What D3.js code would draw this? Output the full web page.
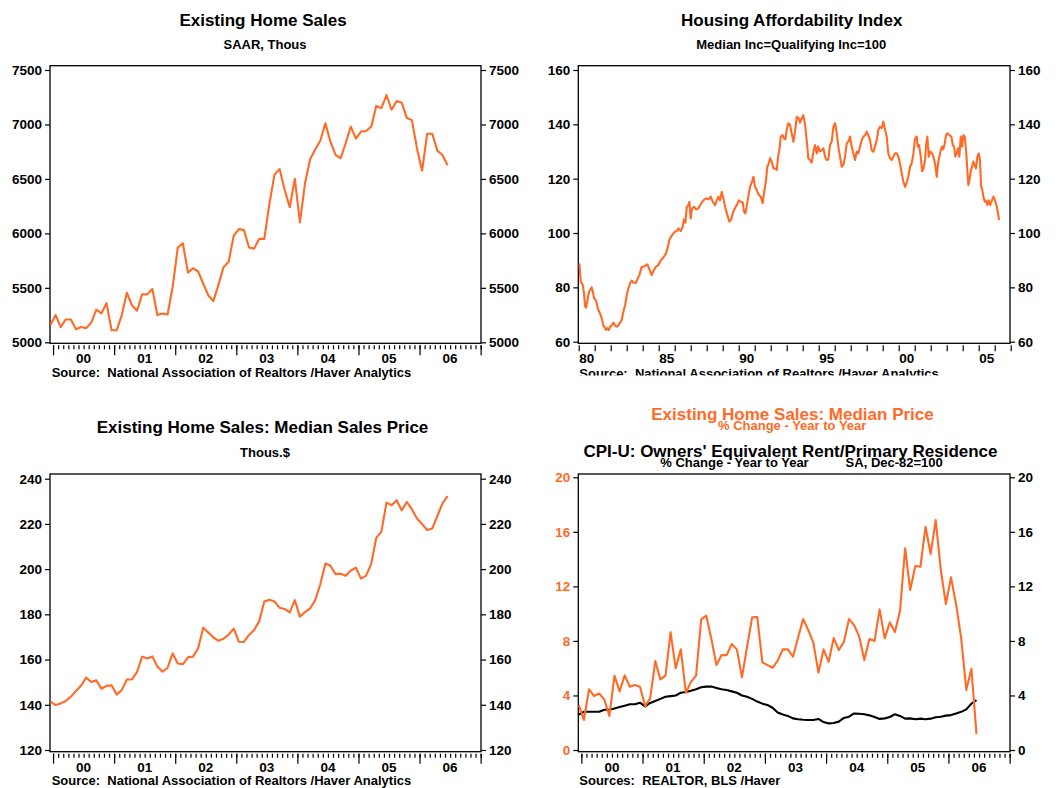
<!DOCTYPE html>
<html>
<head>
<meta charset="utf-8">
<title>Existing Home Sales - Haver panels</title>
<script src="https://d3js.org/d3.v7.min.js"></script>
<style>
  body { margin: 0; background: #fff; }
  svg { display: block; font-family: "Liberation Sans", Arial, Helvetica, sans-serif; font-weight: bold; }
  .tick text { font-size: 13.5px; font-weight: bold; }
  .lab { font-size: 13.5px; }
  .src { font-size: 13px; white-space: pre; }
  .title { font-size: 17px; }
  .sub { font-size: 13px; }
</style>
</head>
<body>
<svg id="chart" width="1059" height="788"></svg>
<script>
// ---- data: monthly, Dec 1999 .. Jun 2006 ----
const monthStart = 1999 + 11 / 12;   // Dec 1999
const salesValues = [
  5160,5250,5140,5210,5210,5120,5140,5130,5180,5300,5265,5360,
  5110,5110,5250,5455,5340,5290,5440,5440,5490,5250,5265,5255,
  5510,5870,5910,5640,5680,5650,5540,5430,5380,5530,5690,5740,
  5980,6040,6030,5870,5860,5950,5950,6270,6540,6590,6400,6240,
  6500,6100,6460,6680,6770,6850,7010,6840,6720,6690,6830,6980,
  6870,6935,6940,6980,7170,7150,7270,7135,7215,7200,7060,7040,
  6780,6575,6915,6915,6760,6720,6625
];
const priceValues = [
  141.4,139.9,140.6,141.7,143.6,146.1,148.4,152.0,150.1,150.8,
  147.1,148.4,148.6,144.5,146.5,151.2,151.2,154.5,161.3,160.5,
  161.4,156.9,154.6,156.4,162.7,158.3,157.9,161.0,161.3,165.0,
  174.1,172.0,169.8,168.3,169.2,171.1,173.7,167.9,167.8,170.9,
  173.1,177.0,185.7,186.5,185.7,182.9,182.4,180.9,186.3,179.0,
  181.0,182.6,186.3,193.3,202.5,201.5,197.8,198.0,197.1,199.4,
  200.6,195.8,197.1,202.3,213.9,216.5,229.4,228.3,230.5,226.0,
  229.7,226.4,222.4,219.9,217.3,218.0,223.5,229.1,232.3
];
const priceYoY = [
  3.3,2.2,4.45,3.96,4.15,3.7,2.5,5.45,4.3,5.47,
  4.64,4.76,4.64,3.22,3.79,6.52,5.18,5.45,8.63,5.99,
  7.38,4.2,5.0,5.45,9.58,9.85,8.14,6.23,6.96,6.96,
  7.77,7.38,5.33,7.57,9.73,9.75,6.43,6.23,6.03,6.55,
  7.38,7.38,6.84,8.24,9.6,8.8,7.87,5.67,7.38,6.47,
  8.21,7.33,7.94,9.6,9.16,8.31,6.6,8.14,7.99,10.31,
  8.19,9.36,8.65,10.21,14.79,11.73,13.49,13.44,16.37,14.37,
  16.86,13.2,10.7,12.66,10.68,8.19,4.4,5.96,1.17
];
const oerYoY = [
  2.6,2.8,2.8,2.8,2.8,2.95,2.95,3.05,3.15,3.25,
  3.35,3.35,3.47,3.2,3.45,3.6,3.75,3.9,3.95,4.0,
  4.2,4.25,4.35,4.45,4.6,4.65,4.65,4.55,4.45,4.4,
  4.3,4.2,4.0,3.9,3.75,3.55,3.4,3.3,3.1,2.75,
  2.6,2.5,2.32,2.25,2.22,2.2,2.2,2.28,2.05,1.95,
  1.98,2.08,2.35,2.44,2.68,2.66,2.62,2.54,2.42,2.28,
  2.32,2.42,2.62,2.5,2.3,2.32,2.25,2.3,2.25,2.3,
  2.4,2.44,2.52,2.56,2.68,2.8,2.98,3.4,3.65
];

// ---- housing affordability index (read points, decimal year) ----
const affordYear = [
  1980.04,1980.13,1980.25,1980.33,1980.40,1980.46,1980.54,1980.63,1980.71,1980.81,
  1980.88,1980.96,1981.04,1981.13,1981.23,1981.33,1981.44,1981.54,1981.65,1981.71,
  1981.79,1981.88,1981.96,1982.06,1982.17,1982.27,1982.38,1982.48,1982.58,1982.69,
  1982.79,1982.90,1983.00,1983.10,1983.21,1983.31,1983.42,1983.58,1983.67,1983.79,
  1983.94,1984.04,1984.15,1984.29,1984.42,1984.56,1984.67,1984.83,1984.98,1985.13,
  1985.29,1985.46,1985.58,1985.67,1985.75,1985.88,1986.02,1986.13,1986.23,1986.38,
  1986.50,1986.58,1986.67,1986.75,1986.85,1986.92,1987.00,1987.08,1987.21,1987.33,
  1987.48,1987.63,1987.79,1987.96,1988.10,1988.25,1988.38,1988.52,1988.63,1988.73,
  1988.83,1988.94,1989.04,1989.15,1989.29,1989.42,1989.52,1989.63,1989.75,1989.88,
  1990.00,1990.13,1990.25,1990.33,1990.42,1990.50,1990.60,1990.71,1990.81,1990.92,
  1991.02,1991.13,1991.25,1991.38,1991.50,1991.58,1991.71,1991.79,1991.88,1991.96,
  1992.06,1992.17,1992.27,1992.38,1992.46,1992.54,1992.63,1992.75,1992.83,1992.92,
  1993.00,1993.10,1993.21,1993.31,1993.42,1993.52,1993.63,1993.75,1993.83,1993.94,
  1994.04,1994.15,1994.25,1994.35,1994.46,1994.56,1994.67,1994.77,1994.88,1994.96,
  1995.08,1995.19,1995.29,1995.40,1995.50,1995.60,1995.71,1995.81,1995.92,1996.02,
  1996.13,1996.23,1996.33,1996.44,1996.54,1996.65,1996.75,1996.85,1996.96,1997.06,
  1997.17,1997.27,1997.38,1997.48,1997.58,1997.69,1997.79,1997.90,1998.00,1998.10,
  1998.21,1998.31,1998.42,1998.52,1998.63,1998.73,1998.83,1998.94,1999.04,1999.15,
  1999.25,1999.35,1999.46,1999.56,1999.67,1999.77,1999.88,1999.98,2000.08,2000.19,
  2000.29,2000.40,2000.50,2000.60,2000.71,2000.81,2000.92,2001.02,2001.13,2001.19,
  2001.27,2001.38,2001.46,2001.54,2001.65,2001.71,2001.79,2001.88,2001.96,2002.06,
  2002.17,2002.27,2002.38,2002.46,2002.54,2002.63,2002.71,2002.79,2002.88,2002.96,
  2003.04,2003.17,2003.29,2003.38,2003.46,2003.54,2003.63,2003.71,2003.79,2003.88,
  2003.96,2004.04,2004.13,2004.21,2004.29,2004.35,2004.42,2004.50,2004.58,2004.67,
  2004.75,2004.83,2004.92,2005.00,2005.08,2005.15,2005.21,2005.29,2005.38,2005.46,
  2005.54,2005.63,2005.71,2005.79,2005.92,2006.02,2006.13,2006.21,2006.27
];
const affordValue = [
  88.8,82,81,78,73,72.5,75,78,79,80,
  78.4,76,75.6,74,71.7,70.4,68.6,66,65,64.3,
  65,64.3,65.5,66,67,66,65.5,66,67,68,
  71,73.5,77,79.6,81.5,82.5,81.7,81.7,83,84.5,
  87.6,87.6,87.9,88.5,86.6,84.5,86,87.6,88.2,90,
  91,92.5,95,97.7,98.4,99.6,100.5,100.7,101.7,100.7,
  102.3,105,103.8,109.4,110.3,111.5,105.4,109,109.7,108.7,
  109,110.7,112,112.8,112.4,113.4,111.5,110.3,112,113.4,
  112,115.2,112.8,109.7,106.6,104.2,104.8,107.2,109,110.3,
  112,111.5,111.2,107.9,107.2,109.7,113.4,117,118.5,120.7,
  117,115.8,114,113.4,111,114.6,119.5,124.4,125.6,127.5,
  126.3,123.8,123.8,123.2,128,130.5,135.5,136,134.8,134.5,
  138,140.4,139.8,136.7,133.6,137.3,142.8,142.2,140.6,142.2,
  143.4,139.8,134.2,127.5,126.9,125.9,130,132.4,129.3,131.8,
  130,130.5,131.2,128.1,126.9,127.1,132.4,133.6,139.1,140.4,
  136.7,131.8,128.1,124.4,125,128.1,133,133.6,135.5,131.8,
  129.3,126.9,130,129.3,131.8,134.2,135.5,136,137.3,136,
  134.2,130.5,129.9,131.8,134.2,138,139.1,138.6,141,138,
  135.5,129.3,127.5,126.9,128.1,129.3,129.3,128.1,125.6,122,
  118.9,117,118.5,120.7,124.4,125.6,129.3,134.8,135.5,131.8,
  132.4,128.1,122.8,123.5,126.9,132.4,135.5,128.1,130,129.6,
  128.1,125.6,120.7,125.6,128.1,130.5,131.8,130.8,133,136,
  136.7,136,135.5,132.4,131.8,128.1,129.3,131.2,128.1,135.5,
  131.8,136,135.5,130.5,123.2,117.7,119.5,122.6,124.4,126.3,
  125,123.8,128.1,129.3,126.9,117,116.4,113.4,111.5,112,
  110.3,112,110.3,111.5,113.4,112,109.7,107.2,104.8
];

// ---- axis ticks and labels ----
const monthlyYears = [2000, 2001, 2002, 2003, 2004, 2005, 2006];
const monthlyYearLabels = ['00', '01', '02', '03', '04', '05', '06'];
const affordLabelYears = [1980, 1985, 1990, 1995, 2000, 2005];
const affordYearLabels = ['80', '85', '90', '95', '00', '05'];
const salesTicks = [5000, 5500, 6000, 6500, 7000, 7500];
const affordTicks = [60, 80, 100, 120, 140, 160];
const priceTicks = [120, 140, 160, 180, 200, 220, 240];
const pctTicks = [0, 4, 8, 12, 16, 20];

const ORANGE = '#ff6a26';
const svg = d3.select('#chart');
svg.append('rect').attr('width', 1059).attr('height', 788).attr('fill', '#fff');

const months = salesValues.map((d, i) => monthStart + i / 12 + 1 / 24);

function yAxes(p) {
  const fmt = d3.format('d');
  const left = svg.append('g').attr('transform', 'translate(' + p.left + ',0)')
    .call(d3.axisLeft(p.y).tickValues(p.yTicks).tickSize(5).tickPadding(3).tickFormat(fmt));
  const right = svg.append('g').attr('transform', 'translate(' + p.right + ',0)')
    .call(d3.axisRight(p.y).tickValues(p.yTicks).tickSize(5).tickPadding(3).tickFormat(fmt));
  [left, right].forEach(a => {
    a.attr('font-size', null).attr('font-family', null);
    a.select('.domain').remove();
    a.selectAll('line').attr('stroke-width', 1.2);
  });
  left.selectAll('text').attr('fill', p.leftColor || '#000');
}

function xTicks(p, minor, major, majorLen) {
  const base = p.bottom + 2;
  if (minor) {
    svg.append('g').attr('transform', 'translate(0,' + base + ')')
      .call(d3.axisBottom(p.x).tickValues(minor).tickSize(4).tickFormat(''))
      .call(a => a.select('.domain').remove())
      .call(a => a.selectAll('line').attr('stroke-width', 1.2));
  }
  svg.append('g').attr('transform', 'translate(0,' + base + ')')
    .call(d3.axisBottom(p.x).tickValues(major).tickSize(majorLen).tickFormat(''))
    .call(a => a.select('.domain').remove())
    .call(a => a.selectAll('line').attr('stroke-width', 1.2));
}

function frame(p, id) {
  svg.append('clipPath').attr('id', id).append('rect')
    .attr('x', p.left).attr('y', p.top)
    .attr('width', p.right - p.left).attr('height', p.bottom - p.top);
  svg.append('rect').attr('x', p.left).attr('y', p.top)
    .attr('width', p.right - p.left).attr('height', p.bottom - p.top)
    .attr('fill', 'none').attr('stroke', '#000').attr('stroke-width', 1.3);
}

function series(p, id, xs, ys, color) {
  const line = d3.line().x((d, i) => p.x(xs[i])).y(d => p.y(d));
  svg.append('path').datum(ys).attr('clip-path', 'url(#' + id + ')')
    .attr('d', line).attr('fill', 'none').attr('stroke', color)
    .attr('stroke-width', 2.1).attr('stroke-linejoin', 'round');
}

function text(x, y, str, cls, anchor, color) {
  return svg.append('text').attr('x', x).attr('y', y).attr('class', cls)
    .attr('text-anchor', anchor || 'middle').attr('fill', color || '#000').text(str);
}

const monthMinor = d3.range(0, 85).map(m => 2000 + m / 12);
const monthMajor = d3.range(2000, 2008);

// ---- panel 1: existing home sales ----
const p1 = { left: 50, right: 481, top: 65.7, bottom: 343.3 };
p1.x = d3.scaleLinear().domain([1999.95, 2007.006]).range([p1.left, p1.right]);
p1.y = d3.scaleLinear().domain([5000, 7500]).range([342.3, 70]);
p1.yTicks = salesTicks;
frame(p1, 'c1');
yAxes(p1);
xTicks(p1, monthMinor, monthMajor, 10);
series(p1, 'c1', months, salesValues, ORANGE);
monthlyYears.forEach((yr, i) => text(p1.x(yr + 0.5), 363.3, monthlyYearLabels[i], 'lab'));
text(263, 26, 'Existing Home Sales', 'title');
text(265, 49, 'SAAR, Thous', 'sub');
text(51.7, 376.7, 'Source:  National Association of Realtors /Haver Analytics', 'src', 'start');

// ---- panel 2: housing affordability ----
const p2 = { left: 578.3, right: 1010, top: 65.7, bottom: 343.3 };
p2.x = d3.scaleLinear().domain([1980, 2007]).range([578.7, 1010.7]);
p2.y = d3.scaleLinear().domain([60, 160]).range([341.7, 70]);
p2.yTicks = affordTicks;
frame(p2, 'c2');
yAxes(p2);
xTicks(p2, null, d3.range(1980, 2008), 6);
series(p2, 'c2', affordYear, affordValue, ORANGE);
affordLabelYears.forEach((yr, i) => text(p2.x(yr + 0.5), 363.3, affordYearLabels[i], 'lab'));
text(791.7, 26, 'Housing Affordability Index', 'title');
text(791.3, 49, 'Median Inc=Qualifying Inc=100', 'sub');
svg.append('clipPath').attr('id', 'srcclip').append('rect')
  .attr('x', 530).attr('y', 350).attr('width', 529).attr('height', 25.5);
text(579.3, 377.5, 'Source:  National Association of Realtors /Haver Analytics', 'src', 'start')
  .attr('clip-path', 'url(#srcclip)');

// ---- panel 3: median sales price ----
const p3 = { left: 50, right: 481, top: 474, bottom: 751.7 };
p3.x = d3.scaleLinear().domain([1999.95, 2007.006]).range([p3.left, p3.right]);
p3.y = d3.scaleLinear().domain([120, 240]).range([750, 478.7]);
p3.yTicks = priceTicks;
frame(p3, 'c3');
yAxes(p3);
xTicks(p3, monthMinor, monthMajor, 10);
series(p3, 'c3', months, priceValues, ORANGE);
monthlyYears.forEach((yr, i) => text(p3.x(yr + 0.5), 771.7, monthlyYearLabels[i], 'lab'));
text(262.5, 433.3, 'Existing Home Sales: Median Sales Price', 'title');
text(265, 457.3, 'Thous.$', 'sub');
text(51.7, 785, 'Source:  National Association of Realtors /Haver Analytics', 'src', 'start');

// ---- panel 4: yoy price vs owners' equivalent rent ----
const p4 = { left: 578.3, right: 1010, top: 474, bottom: 751.7 };
p4.x = d3.scaleLinear().domain([1999.95, 2007.006]).range([p4.left, p4.right]);
p4.y = d3.scaleLinear().domain([0, 20]).range([750, 477.3]);
p4.yTicks = pctTicks;
p4.leftColor = ORANGE;
frame(p4, 'c4');
yAxes(p4);
xTicks(p4, monthMinor, monthMajor, 10);
series(p4, 'c4', months, oerYoY, '#000');
series(p4, 'c4', months, priceYoY, ORANGE);
monthlyYears.forEach((yr, i) => text(p4.x(yr + 0.5), 771.7, monthlyYearLabels[i], 'lab'));
text(792.5, 420, 'Existing Home Sales: Median Price', 'title', 'middle', ORANGE);
text(792.2, 430, '% Change - Year to Year', 'sub', 'middle', ORANGE);
text(790.5, 457.3, "CPI-U: Owners' Equivalent Rent/Primary Residence", 'title');
text(734.5, 467.3, '% Change - Year to Year', 'sub');
text(894.2, 467.3, 'SA, Dec-82=100', 'sub');
text(579.3, 785, 'Sources:  REALTOR, BLS /Haver', 'src', 'start');
</script>
</body>
</html>
